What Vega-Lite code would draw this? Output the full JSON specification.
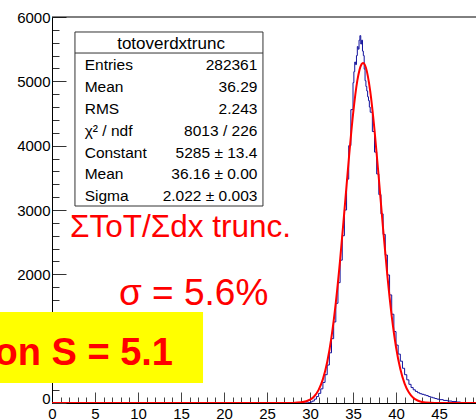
{
  "$schema": "https://vega.github.io/schema/vega-lite/v6.json",
  "usermeta": {"embedOptions": {"actions": false}},
  "width": 424,
  "height": 386,
  "autosize": {"type": "none"},
  "padding": {"left": 52, "top": 17, "right": 0, "bottom": 17},
  "background": "white",
  "config": {"view": {"stroke": null}, "font": "Liberation Sans"},
  "datasets": {
    "blue": [
      {"x": 0, "n": 0}, {"x": 29.5, "n": 2}, {"x": 29.75, "n": 5}, {"x": 30, "n": 15}, {"x": 30.25, "n": 30},
      {"x": 30.5, "n": 60}, {"x": 30.75, "n": 100}, {"x": 31, "n": 150}, {"x": 31.25, "n": 220}, {"x": 31.5, "n": 320},
      {"x": 31.75, "n": 440}, {"x": 32, "n": 590}, {"x": 32.25, "n": 780}, {"x": 32.5, "n": 1000}, {"x": 32.75, "n": 1260},
      {"x": 33, "n": 1550}, {"x": 33.25, "n": 1870}, {"x": 33.5, "n": 2220}, {"x": 33.75, "n": 2600}, {"x": 34, "n": 3000},
      {"x": 34.25, "n": 3480}, {"x": 34.5, "n": 4000}, {"x": 34.75, "n": 4560}, {"x": 35.0, "n": 4980}, {"x": 35.1, "n": 5150},
      {"x": 35.2, "n": 5300}, {"x": 35.3, "n": 5260}, {"x": 35.4, "n": 5400}, {"x": 35.5, "n": 5540}, {"x": 35.6, "n": 5500},
      {"x": 35.7, "n": 5640}, {"x": 35.8, "n": 5710}, {"x": 35.9, "n": 5580}, {"x": 36.0, "n": 5640}, {"x": 36.1, "n": 5470},
      {"x": 36.2, "n": 5400}, {"x": 36.3, "n": 5190}, {"x": 36.4, "n": 5010}, {"x": 36.5, "n": 4920}, {"x": 36.6, "n": 4850},
      {"x": 36.7, "n": 4760}, {"x": 36.8, "n": 4700}, {"x": 36.9, "n": 4600}, {"x": 37.0, "n": 4520}, {"x": 37.25, "n": 4220},
      {"x": 37.5, "n": 3900}, {"x": 37.75, "n": 3560}, {"x": 38.0, "n": 3240}, {"x": 38.25, "n": 2940}, {"x": 38.5, "n": 2620},
      {"x": 38.75, "n": 2300}, {"x": 39.0, "n": 1990}, {"x": 39.25, "n": 1680}, {"x": 39.5, "n": 1380}, {"x": 39.75, "n": 1110},
      {"x": 40.0, "n": 900}, {"x": 40.25, "n": 760}, {"x": 40.5, "n": 650}, {"x": 40.75, "n": 540}, {"x": 41.0, "n": 440},
      {"x": 41.25, "n": 360}, {"x": 41.5, "n": 290}, {"x": 41.75, "n": 240}, {"x": 42.0, "n": 205}, {"x": 42.25, "n": 180},
      {"x": 42.5, "n": 160}, {"x": 42.75, "n": 145}, {"x": 43.0, "n": 135}, {"x": 43.25, "n": 125}, {"x": 43.5, "n": 115},
      {"x": 43.75, "n": 100}, {"x": 44.0, "n": 90}, {"x": 44.25, "n": 80}, {"x": 44.5, "n": 70}, {"x": 44.75, "n": 60},
      {"x": 45.0, "n": 52}, {"x": 45.5, "n": 40}, {"x": 46.0, "n": 30}, {"x": 46.5, "n": 22}, {"x": 47.0, "n": 15},
      {"x": 47.5, "n": 8}, {"x": 48.0, "n": 3}, {"x": 48.5, "n": 0}
    ],
    "fit": [
      {"x": 0, "f": 0}, {"x": 27, "f": 0}, {"x": 28, "f": 1.5}, {"x": 29, "f": 10}, {"x": 30, "f": 51},
      {"x": 30.5, "f": 105}, {"x": 31, "f": 204}, {"x": 31.5, "f": 371}, {"x": 32, "f": 637}, {"x": 32.5, "f": 1027},
      {"x": 33, "f": 1559}, {"x": 33.5, "f": 2224}, {"x": 34, "f": 2987}, {"x": 34.5, "f": 3773}, {"x": 35, "f": 4483},
      {"x": 35.5, "f": 5011}, {"x": 36, "f": 5268}, {"x": 36.16, "f": 5285}, {"x": 36.5, "f": 5211}, {"x": 37, "f": 4848},
      {"x": 37.5, "f": 4243}, {"x": 38, "f": 3494}, {"x": 38.5, "f": 2705}, {"x": 39, "f": 1971}, {"x": 39.5, "f": 1351},
      {"x": 40, "f": 871}, {"x": 40.5, "f": 528}, {"x": 41, "f": 301}, {"x": 41.5, "f": 162}, {"x": 42, "f": 82},
      {"x": 42.5, "f": 39}, {"x": 43, "f": 17}, {"x": 44, "f": 3}, {"x": 45, "f": 0}, {"x": 49.3, "f": 0}
    ],
    "one": [{}]
  },
  "layer": [
    {
      "data": {"name": "blue"},
      "mark": {"type": "line", "interpolate": "step-after", "color": "#12129c", "strokeWidth": 1, "clip": true},
      "encoding": {
        "x": {
          "field": "x", "type": "quantitative",
          "scale": {"domain": [0, 49.3], "nice": false, "zero": false},
          "axis": {
            "title": null, "grid": false,
            "values": [0,1,2,3,4,5,6,7,8,9,10,11,12,13,14,15,16,17,18,19,20,21,22,23,24,25,26,27,28,29,30,31,32,33,34,35,36,37,38,39,40,41,42,43,44,45,46,47,48,49],
            "tickCount": 500,
            "format": "d",
            "labelExpr": "datum.value % 5 === 0 ? datum.label : ''",
            "tickSize": {"condition": {"test": "datum.value % 5 === 0", "value": -11}, "value": -6},
            "labelPadding": 14,
            "tickColor": "#444", "tickWidth": 1,
            "domainColor": "black", "domainWidth": 1,
            "labelFont": "Liberation Sans", "labelFontSize": 15, "labelColor": "black",
            "labelFlush": false, "labelOverlap": false, "labelBound": false
          }
        },
        "y": {
          "field": "n", "type": "quantitative",
          "scale": {"domain": [0, 6000], "nice": false, "zero": false},
          "axis": {
            "title": null, "grid": false,
            "values": [0,200,400,600,800,1000,1200,1400,1600,1800,2000,2200,2400,2600,2800,3000,3200,3400,3600,3800,4000,4200,4400,4600,4800,5000,5200,5400,5600,5800,6000],
            "tickCount": 500,
            "format": "d",
            "labelExpr": "datum.value % 1000 === 0 ? datum.label : ''",
            "tickSize": {"condition": {"test": "datum.value % 1000 === 0", "value": -14}, "value": -7},
            "labelPadding": 16,
            "labelOffset": {"condition": {"test": "datum.value === 0", "value": -5}, "value": 0},
            "tickColor": "#333", "tickWidth": 1,
            "domainColor": "black", "domainWidth": 1,
            "labelFont": "Liberation Sans", "labelFontSize": 15, "labelColor": "black",
            "labelFlush": false, "labelOverlap": false, "labelBound": false
          }
        }
      }
    },
    {
      "data": {"name": "fit"},
      "mark": {"type": "line", "interpolate": "monotone", "color": "#ff0000", "strokeWidth": 2, "clip": true},
      "encoding": {
        "x": {"field": "x", "type": "quantitative", "scale": {"domain": [0, 49.3], "nice": false, "zero": false}},
        "y": {"field": "f", "type": "quantitative", "scale": {"domain": [0, 6000], "nice": false, "zero": false}}
      }
    },
    {
      "data": {"name": "one"},
      "mark": {"type": "rule", "color": "black", "strokeWidth": 1},
      "encoding": {
        "x": {"datum": 0, "type": "quantitative", "scale": {"domain": [0, 49.3], "nice": false, "zero": false}},
        "x2": {"datum": 49.3},
        "y": {"datum": 6000, "type": "quantitative", "scale": {"domain": [0, 6000], "nice": false, "zero": false}}
      }
    },
    {
      "data": {"name": "one"},
      "mark": {"type": "rect", "fill": "white", "stroke": "#333", "strokeWidth": 1},
      "encoding": {
        "x": {"datum": 2.67, "type": "quantitative", "scale": {"domain": [0, 49.3], "nice": false, "zero": false}},
        "x2": {"datum": 24.53},
        "y": {"datum": 5767, "type": "quantitative", "scale": {"domain": [0, 6000], "nice": false, "zero": false}},
        "y2": {"datum": 3062}
      }
    },
    {
      "data": {"name": "one"},
      "mark": {"type": "rule", "color": "#333", "strokeWidth": 1},
      "encoding": {
        "x": {"datum": 2.67, "type": "quantitative", "scale": {"domain": [0, 49.3], "nice": false, "zero": false}},
        "x2": {"datum": 24.53},
        "y": {"datum": 5440, "type": "quantitative", "scale": {"domain": [0, 6000], "nice": false, "zero": false}}
      }
    },
    {
      "data": {"name": "one"},
      "mark": {"type": "text", "text": "totoverdxtrunc", "color": "black", "fontSize": 17, "font": "Liberation Sans", "align": "center", "baseline": "alphabetic"},
      "encoding": {
        "x": {"datum": 13.84, "type": "quantitative", "scale": {"domain": [0, 49.3], "nice": false, "zero": false}},
        "y": {"datum": 5500, "type": "quantitative", "scale": {"domain": [0, 6000], "nice": false, "zero": false}}
      }
    },
    {
      "data": {"name": "one"},
      "mark": {"type": "text", "text": ["Entries", "Mean", "RMS", "χ² / ndf", "Constant", "Mean", "Sigma"], "lineHeight": 21.86, "color": "black", "fontSize": 15.5, "font": "Liberation Sans", "align": "left", "baseline": "alphabetic"},
      "encoding": {
        "x": {"datum": 3.8, "type": "quantitative", "scale": {"domain": [0, 49.3], "nice": false, "zero": false}},
        "y": {"datum": 5175, "type": "quantitative", "scale": {"domain": [0, 6000], "nice": false, "zero": false}}
      }
    },
    {
      "data": {"name": "one"},
      "mark": {"type": "text", "text": ["282361", "36.29", "2.243", "8013 / 226", "5285 ± 13.4", "36.16 ± 0.00", "2.022 ± 0.003"], "lineHeight": 21.86, "color": "black", "fontSize": 15.5, "font": "Liberation Sans", "align": "right", "baseline": "alphabetic"},
      "encoding": {
        "x": {"datum": 23.88, "type": "quantitative", "scale": {"domain": [0, 49.3], "nice": false, "zero": false}},
        "y": {"datum": 5175, "type": "quantitative", "scale": {"domain": [0, 6000], "nice": false, "zero": false}}
      }
    },
    {
      "data": {"name": "one"},
      "mark": {"type": "text", "text": "ΣToT/Σdx trunc.", "color": "#ff0000", "fontSize": 31.5, "font": "Liberation Sans", "align": "left", "baseline": "alphabetic"},
      "encoding": {
        "x": {"datum": 2.09, "type": "quantitative", "scale": {"domain": [0, 49.3], "nice": false, "zero": false}},
        "y": {"datum": 2580, "type": "quantitative", "scale": {"domain": [0, 6000], "nice": false, "zero": false}}
      }
    },
    {
      "data": {"name": "one"},
      "mark": {"type": "text", "text": "σ = 5.6%", "color": "#ff0000", "fontSize": 37, "font": "Liberation Sans", "align": "left", "baseline": "alphabetic"},
      "encoding": {
        "x": {"datum": 7.79, "type": "quantitative", "scale": {"domain": [0, 49.3], "nice": false, "zero": false}},
        "y": {"datum": 1523, "type": "quantitative", "scale": {"domain": [0, 6000], "nice": false, "zero": false}}
      }
    },
    {
      "data": {"name": "one"},
      "mark": {"type": "rect", "fill": "#ffff00"},
      "encoding": {
        "x": {"datum": -6.1, "type": "quantitative", "scale": {"domain": [0, 49.3], "nice": false, "zero": false}},
        "x2": {"datum": 17.56},
        "y": {"datum": 1414, "type": "quantitative", "scale": {"domain": [0, 6000], "nice": false, "zero": false}},
        "y2": {"datum": 310}
      }
    },
    {
      "data": {"name": "one"},
      "mark": {"type": "text", "text": "on S = 5.1", "color": "#ff0000", "fontSize": 38, "fontWeight": "bold", "font": "Liberation Sans", "align": "right", "baseline": "alphabetic"},
      "encoding": {
        "x": {"datum": 14.07, "type": "quantitative", "scale": {"domain": [0, 49.3], "nice": false, "zero": false}},
        "y": {"datum": 590, "type": "quantitative", "scale": {"domain": [0, 6000], "nice": false, "zero": false}}
      }
    }
  ]
}
